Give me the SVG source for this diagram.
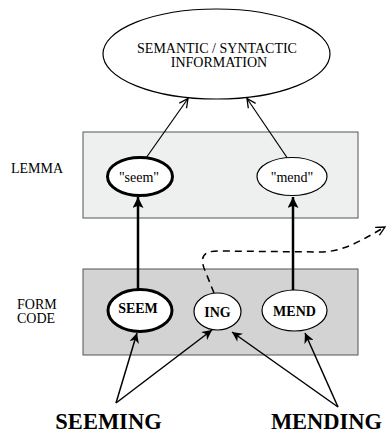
<svg xmlns="http://www.w3.org/2000/svg" width="387" height="431" viewBox="0 0 387 431">
<style>
text{font-family:"Liberation Serif","Times New Roman",serif;fill:#000}
.lbl{font-size:14px}
.big{font-size:22.5px;font-weight:bold}
.node{fill:#fff;stroke:#000}
.thin{stroke-width:1.2}
.thick{stroke-width:3}
.c{stroke:#000;fill:none}
</style>
<defs>
<marker id="ah" viewBox="0 0 10 10" refX="10" refY="5" markerWidth="10" markerHeight="10" markerUnits="userSpaceOnUse" orient="auto"><path d="M0,0 L10,5 L0,10 L3,5 Z" fill="#000"/></marker>
<marker id="ahs" viewBox="0 0 10 10" refX="10" refY="5" markerWidth="11" markerHeight="11" markerUnits="userSpaceOnUse" orient="auto"><path d="M0,0 L10,5 L0,10 L2,5 Z" fill="#000"/></marker>
<marker id="ao" viewBox="0 0 10 10" refX="9" refY="5" markerWidth="11" markerHeight="11" markerUnits="userSpaceOnUse" orient="auto"><path d="M1,1 L9,5 L1,9" fill="none" stroke="#000" stroke-width="1.2"/></marker>
</defs>
<g id="lemma-layer">
<rect x="83" y="132" width="275" height="86" fill="#eef0ef" stroke="#555" stroke-width="1"/>
<text class="lbl" x="11" y="173">LEMMA</text>
</g>
<g id="form-layer">
<rect x="83" y="269" width="275" height="86" fill="#d3d3d3" stroke="#555" stroke-width="1"/>
<text class="lbl" x="17" y="309">FORM</text>
<text class="lbl" x="17" y="323">CODE</text>
</g>
<g id="semantic">
<ellipse class="node thin" cx="216.5" cy="54" rx="113.5" ry="45"/>
<text class="lbl" x="217" y="53" text-anchor="middle">SEMANTIC / SYNTACTIC</text>
<text class="lbl" x="219" y="67" text-anchor="middle">INFORMATION</text>
</g>
<g id="lemma-seem">
<ellipse class="node thick" cx="140" cy="176.5" rx="32.5" ry="19"/>
<text class="lbl" x="139" y="181.5" text-anchor="middle">"seem"</text>
</g>
<g id="lemma-mend">
<ellipse class="node thin" cx="292" cy="176.5" rx="35" ry="19"/>
<text class="lbl" x="292" y="181.5" text-anchor="middle">"mend"</text>
</g>
<g id="form-seem">
<ellipse class="node thick" cx="140" cy="310.5" rx="32" ry="21"/>
<text class="lbl" x="138" y="313" text-anchor="middle" font-weight="bold">SEEM</text>
</g>
<g id="form-ing">
<ellipse class="node thin" cx="217.5" cy="311.5" rx="23.5" ry="18.5"/>
<text class="lbl" x="217.5" y="317" text-anchor="middle" font-weight="bold">ING</text>
</g>
<g id="form-mend">
<ellipse class="node thin" cx="294.5" cy="310.5" rx="32.5" ry="20.5"/>
<text class="lbl" x="294.5" y="315.5" text-anchor="middle" font-weight="bold">MEND</text>
</g>
<g id="word-seeming"><text class="big" x="108.5" y="429" text-anchor="middle">SEEMING</text></g>
<g id="word-mending"><text class="big" x="326.5" y="429" text-anchor="middle">MENDING</text></g>
<g id="connectors">
<line class="c" x1="146" y1="158" x2="188" y2="98.5" stroke-width="1.2" marker-end="url(#ao)"/>
<line class="c" x1="287" y1="157.5" x2="247" y2="98.5" stroke-width="1.2" marker-end="url(#ao)"/>
<line class="c" x1="138" y1="289.5" x2="138" y2="197" stroke-width="2.5" marker-end="url(#ahs)"/>
<line class="c" x1="293" y1="290" x2="293" y2="197" stroke-width="2.5" marker-end="url(#ahs)"/>
<path class="c" d="M214,293 L204,268 C200,256 204,251 218,251 L320,252 C345,252 365,238 385,227" stroke-width="1.5" stroke-dasharray="7,5" marker-end="url(#ao)"/>
<line class="c" x1="116" y1="403" x2="137" y2="333" stroke-width="1.5" marker-end="url(#ah)"/>
<line class="c" x1="116" y1="403" x2="212" y2="330" stroke-width="1.5" marker-end="url(#ah)"/>
<line class="c" x1="338" y1="407" x2="232" y2="332" stroke-width="1.5" marker-end="url(#ah)"/>
<line class="c" x1="338" y1="407" x2="305" y2="333" stroke-width="1.5" marker-end="url(#ah)"/>
</g>
</svg>
